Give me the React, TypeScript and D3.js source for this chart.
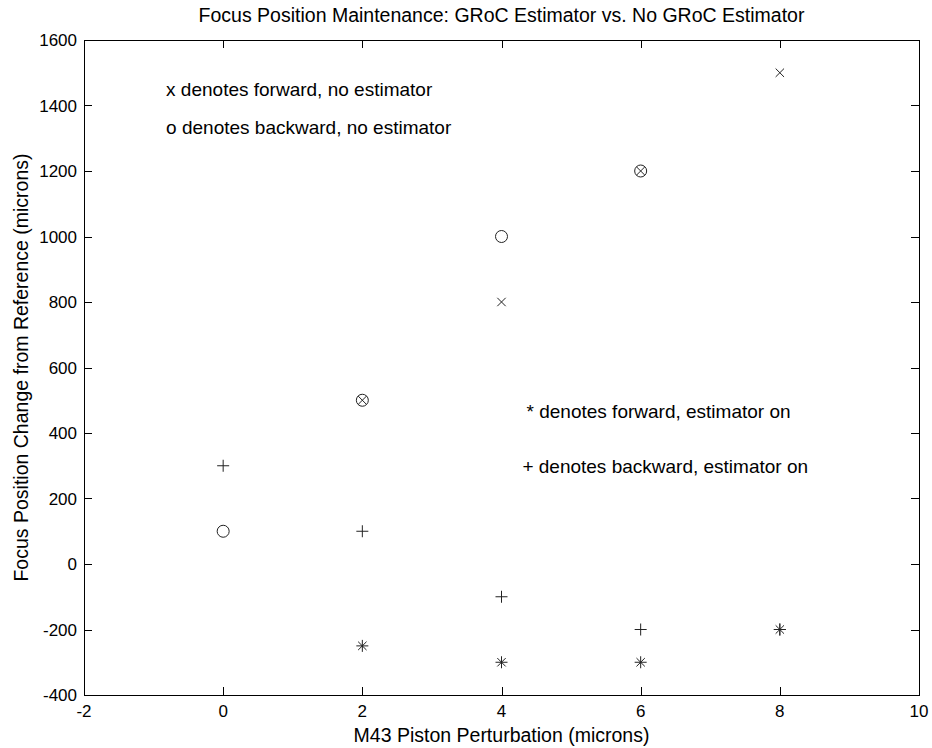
import React, { useEffect, useRef } from "react";
import * as d3 from "d3";

const xTicks = [-2, 0, 2, 4, 6, 8, 10];
const yTicks = [-400, -200, 0, 200, 400, 600, 800, 1000, 1200, 1400, 1600];

// x: forward, no estimator
const fwdNoEstX = [2, 4, 6, 8];
const fwdNoEstY = [500, 800, 1200, 1500];
// o: backward, no estimator
const bwdNoEstX = [0, 2, 4, 6];
const bwdNoEstY = [100, 500, 1000, 1200];
// *: forward, estimator on
const fwdEstX = [2, 4, 6, 8];
const fwdEstY = [-250, -300, -300, -200];
// +: backward, estimator on
const bwdEstX = [0, 2, 4, 6, 8];
const bwdEstY = [300, 100, -100, -200, -200];

const notes = [
  { x: -0.82, y: 1450, text: "x denotes forward, no estimator" },
  { x: -0.82, y: 1335, text: "o denotes backward, no estimator" },
  { x: 4.36, y: 467, text: "* denotes forward, estimator on" },
  { x: 4.3, y: 300, text: "+ denotes backward, estimator on" },
];

const title = "Focus Position Maintenance: GRoC Estimator vs. No GRoC Estimator";
const xLabel = "M43 Piston Perturbation (microns)";
const yLabel = "Focus Position Change from Reference (microns)";

export default function App() {
  const svgRef = useRef<SVGSVGElement>(null);

  useEffect(() => {
    const W = 932, H = 748;
    const left = 84, right = 919, top = 40, bottom = 695;
    const font = "'Liberation Sans', Arial, sans-serif";

    const svg = d3.select(svgRef.current);
    svg.selectAll("*").remove();
    svg.attr("width", W).attr("height", H);

    svg.append("rect").attr("width", W).attr("height", H).attr("fill", "#fff");

    const x = d3.scaleLinear().domain([-2, 10]).range([left, right]);
    const y = d3.scaleLinear().domain([-400, 1600]).range([bottom, top]);
    const tk = 8;

    const axes = svg.append("g").attr("stroke", "#000").attr("stroke-width", 1).attr("fill", "none");
    axes.append("rect")
      .attr("x", left + 0.5).attr("y", top + 0.5)
      .attr("width", right - left).attr("height", bottom - top);

    xTicks.forEach(t => {
      const px = Math.round(x(t)) + 0.5;
      axes.append("line").attr("x1", px).attr("x2", px).attr("y1", bottom).attr("y2", bottom - tk);
      axes.append("line").attr("x1", px).attr("x2", px).attr("y1", top).attr("y2", top + tk);
    });
    yTicks.forEach(t => {
      const py = Math.round(y(t)) + 0.5;
      axes.append("line").attr("x1", left).attr("x2", left + tk).attr("y1", py).attr("y2", py);
      axes.append("line").attr("x1", right).attr("x2", right - tk).attr("y1", py).attr("y2", py);
    });

    const txt = svg.append("g").attr("font-family", font).attr("fill", "#000");

    txt.selectAll("text.xt").data(xTicks).enter().append("text")
      .attr("font-size", 17)
      .attr("x", d => x(d)).attr("y", bottom + 22)
      .attr("text-anchor", "middle").text(d => d);

    txt.selectAll("text.yt").data(yTicks).enter().append("text")
      .attr("font-size", 17)
      .attr("x", left - 7).attr("y", d => y(d) + 6)
      .attr("text-anchor", "end").text(d => d);

    txt.append("text").attr("x", (left + right) / 2).attr("y", 22)
      .attr("font-size", 19.5)
      .attr("text-anchor", "middle").text(title);
    txt.append("text").attr("x", (left + right) / 2).attr("y", 742)
      .attr("font-size", 19.5)
      .attr("text-anchor", "middle").text(xLabel);
    txt.append("text")
      .attr("transform", `translate(28,${(top + bottom) / 2}) rotate(-90)`)
      .attr("font-size", 19.5)
      .attr("text-anchor", "middle").text(yLabel);

    notes.forEach(n => {
      txt.append("text").attr("x", x(n.x)).attr("y", y(n.y) + 7)
        .attr("font-size", 19).text(n.text);
    });

    const mk = svg.append("g").attr("stroke", "#222").attr("stroke-width", 1).attr("fill", "none");
    const r = 6;

    // x markers
    fwdNoEstX.forEach((v, i) => {
      const cx = x(v), cy = y(fwdNoEstY[i]), s = 4.2;
      mk.append("path").attr("d", `M${cx - s},${cy - s}L${cx + s},${cy + s}M${cx - s},${cy + s}L${cx + s},${cy - s}`);
    });
    // o markers
    bwdNoEstX.forEach((v, i) => {
      mk.append("circle").attr("cx", x(v)).attr("cy", y(bwdNoEstY[i])).attr("r", r);
    });
    // * markers
    fwdEstX.forEach((v, i) => {
      const cx = x(v), cy = y(fwdEstY[i]), s = 4.2;
      mk.append("path").attr("d",
        `M${cx - r},${cy}L${cx + r},${cy}M${cx},${cy - r}L${cx},${cy + r}` +
        `M${cx - s},${cy - s}L${cx + s},${cy + s}M${cx - s},${cy + s}L${cx + s},${cy - s}`);
    });
    // + markers
    bwdEstX.forEach((v, i) => {
      const cx = x(v), cy = y(bwdEstY[i]);
      mk.append("path").attr("d", `M${cx - r},${cy}L${cx + r},${cy}M${cx},${cy - r}L${cx},${cy + r}`);
    });
  }, []);

  return (
    <svg ref={svgRef} style={{ position: "absolute", left: 0, top: 0, display: "block" }}></svg>
  );
}
